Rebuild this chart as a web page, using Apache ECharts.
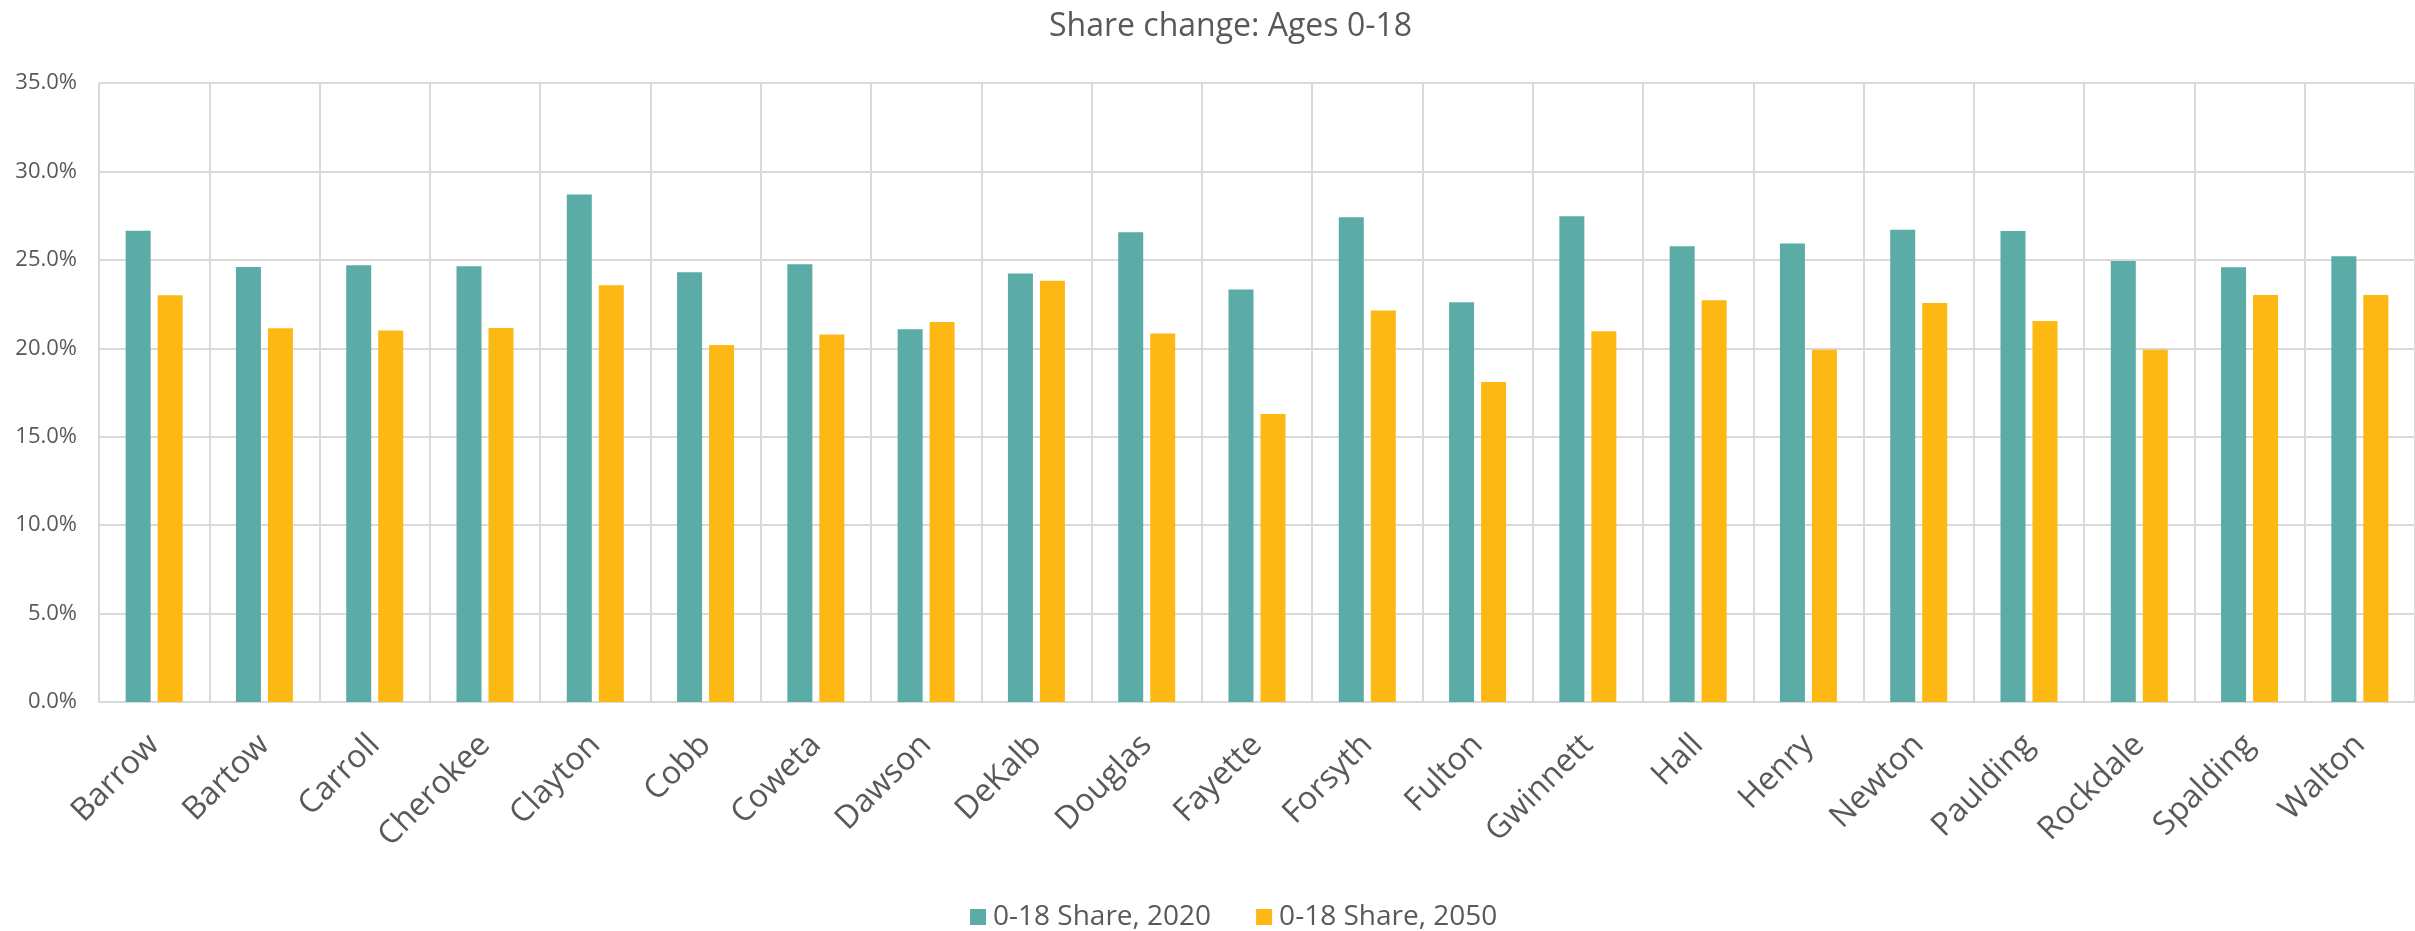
<!DOCTYPE html>
<html>
<head>
<meta charset="utf-8">
<script src="https://cdn.jsdelivr.net/npm/echarts@6/dist/echarts.min.js"></script>
<style>
html,body{margin:0;padding:0;background:#fff;}
#chart{width:2415px;height:931px;}
</style>
</head>
<body>
<div id="chart"></div>
<script>
const categories = ["Barrow","Bartow","Carroll","Cherokee","Clayton","Cobb","Coweta","Dawson","DeKalb","Douglas","Fayette","Forsyth","Fulton","Gwinnett","Hall","Henry","Newton","Paulding","Rockdale","Spalding","Walton"];
const share2020 = [26.64,24.60,24.70,24.64,28.70,24.30,24.75,21.07,24.23,26.56,23.32,27.41,22.61,27.46,25.77,25.92,26.70,26.63,24.94,24.58,25.20];
const share2050 = [23.00,21.13,21.00,21.15,23.57,20.19,20.78,21.49,23.82,20.83,16.29,22.13,18.09,20.97,22.71,19.92,22.56,21.54,19.92,23.01,23.01];
const seriesNames = ["0-18 Share, 2020","0-18 Share, 2050"];
const titleText = "Share change: Ages 0-18";

const FONT = "'Open Sans', 'Noto Sans', sans-serif";
const chart = echarts.init(document.getElementById('chart'), null, {renderer:'canvas'});
chart.setOption({
  animation:false,
  backgroundColor:'#ffffff',
  title:{text:titleText,left:1044,top:6,textStyle:{fontFamily:FONT,fontSize:32,fontWeight:'normal',color:'#595959'}},
  legend:{left:965,top:898,itemWidth:16,itemHeight:16,itemGap:45,icon:'rect',
    textStyle:{fontFamily:FONT,fontSize:28,color:'#595959',padding:[0,0,0,2]},data:seriesNames},
  grid:{left:99,right:-15,top:83,bottom:229,containLabel:false},
  xAxis:{type:'category',data:categories,
    axisLine:{show:true,lineStyle:{color:'#D9D9D9',width:2}},
    axisTick:{show:false},
    splitLine:{show:true,lineStyle:{color:'#D9D9D9',width:2}},
    axisLabel:{rotate:45,fontFamily:FONT,fontSize:32,color:'#595959',margin:38,interval:0}},
  yAxis:{type:'value',min:0,max:35,interval:5,
    axisLine:{show:false},axisTick:{show:false},
    splitLine:{lineStyle:{color:'#D9D9D9',width:2}},
    axisLabel:{fontFamily:FONT,fontSize:22,color:'#595959',margin:22,formatter:v=>v.toFixed(1)+'%'}},
  series:[
    {name:seriesNames[0],type:'bar',data:share2020,barWidth:25,barGap:'28%',itemStyle:{color:'#5BABA6'}},
    {name:seriesNames[1],type:'bar',data:share2050,barWidth:25,itemStyle:{color:'#FDB813'}}
  ]
});
</script>
</body>
</html>
